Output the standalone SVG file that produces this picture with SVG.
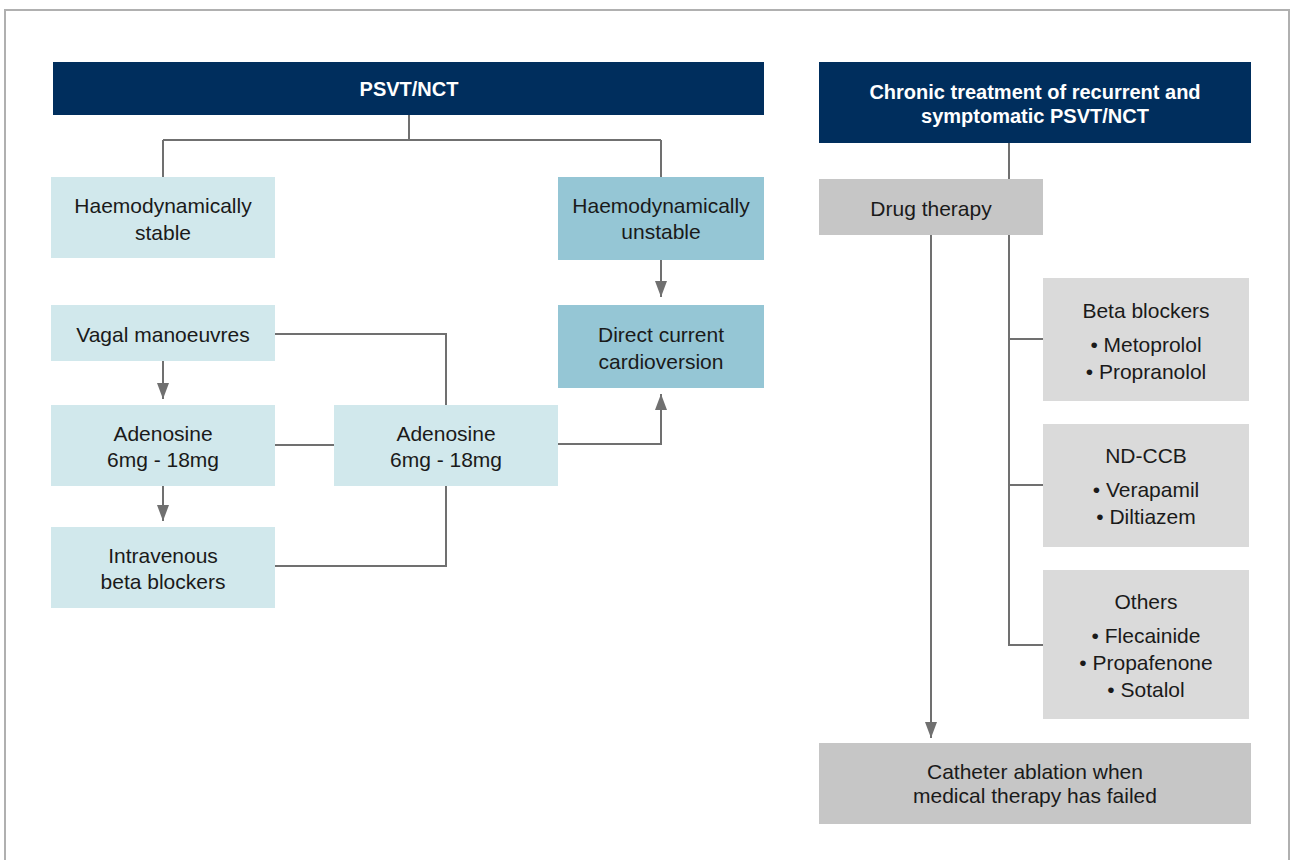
<svg xmlns="http://www.w3.org/2000/svg" width="1291" height="860" viewBox="0 0 1291 860">
  <style>
    .t { font-family: "Liberation Sans", Arial, sans-serif; font-size: 21px; fill: #1a1a1a; text-anchor: middle; }
    .h { font-family: "Liberation Sans", Arial, sans-serif; font-size: 20px; font-weight: bold; fill: #ffffff; text-anchor: middle; }
    .navy { fill: #002e5d; }
    .lb { fill: #d1e8ec; }
    .mb { fill: #95c6d5; }
    .g1 { fill: #c6c6c6; }
    .g2 { fill: #dadada; }
    .c { fill: none; stroke: #707070; stroke-width: 2; }
    .ca { fill: none; stroke: #707070; stroke-width: 2; marker-end: url(#arr); }
  </style>
  <defs>
    <marker id="arr" viewBox="0 0 16 12" markerWidth="16" markerHeight="12" refX="16" refY="6" orient="auto" markerUnits="userSpaceOnUse">
      <path d="M0,0 L16,6 L0,12 z" fill="#707070"/>
    </marker>
  </defs>
  <rect width="1291" height="860" fill="#ffffff"/>
  <path d="M5,862 V10 H1289 V862" fill="none" stroke="#b0b0b0" stroke-width="2"/>

  <g id="connectors">
    <path class="c" d="M409,115 V140 M163,140 H661 M163,140 V177 M661,140 V177"/>
    <path class="ca" d="M661,260 V297"/>
    <path class="ca" d="M163,361 V399"/>
    <path class="ca" d="M163,486 V521"/>
    <path class="c" d="M275,334 H446 V405"/>
    <path class="c" d="M275,445 H334"/>
    <path class="c" d="M275,566 H446 V486"/>
    <path class="ca" d="M557,444 H661 V394"/>
    <path class="c" d="M1009,143 V179"/>
    <path class="c" d="M1009,235 V645 H1043 M1009,339 H1043 M1009,485 H1043"/>
    <path class="ca" d="M931,235 V738"/>
  </g>

  <g id="psvt-header">
    <rect class="navy" x="53" y="62" width="711" height="53"/>
    <text class="h" x="409" y="96">PSVT/NCT</text>
  </g>
  <g id="stable">
    <rect class="lb" x="51" y="177" width="224" height="81"/>
    <text class="t" x="163" y="213">Haemodynamically</text>
    <text class="t" x="163" y="240">stable</text>
  </g>
  <g id="unstable">
    <rect class="mb" x="558" y="177" width="206" height="83"/>
    <text class="t" x="661" y="213">Haemodynamically</text>
    <text class="t" x="661" y="239">unstable</text>
  </g>
  <g id="vagal">
    <rect class="lb" x="51" y="305" width="224" height="56"/>
    <text class="t" x="163" y="342">Vagal manoeuvres</text>
  </g>
  <g id="dc-cardioversion">
    <rect class="mb" x="558" y="305" width="206" height="83"/>
    <text class="t" x="661" y="342">Direct current</text>
    <text class="t" x="661" y="369">cardioversion</text>
  </g>
  <g id="adenosine-1">
    <rect class="lb" x="51" y="405" width="224" height="81"/>
    <text class="t" x="163" y="441">Adenosine</text>
    <text class="t" x="163" y="467">6mg - 18mg</text>
  </g>
  <g id="adenosine-2">
    <rect class="lb" x="334" y="405" width="224" height="81"/>
    <text class="t" x="446" y="441">Adenosine</text>
    <text class="t" x="446" y="467">6mg - 18mg</text>
  </g>
  <g id="iv-beta">
    <rect class="lb" x="51" y="527" width="224" height="81"/>
    <text class="t" x="163" y="563">Intravenous</text>
    <text class="t" x="163" y="589">beta blockers</text>
  </g>

  <g id="chronic-header">
    <rect class="navy" x="819" y="62" width="432" height="81"/>
    <text class="h" x="1035" y="99">Chronic treatment of recurrent and</text>
    <text class="h" x="1035" y="123">symptomatic PSVT/NCT</text>
  </g>
  <g id="drug-therapy">
    <rect class="g1" x="819" y="179" width="224" height="56"/>
    <text class="t" x="931" y="216">Drug therapy</text>
  </g>
  <g id="beta-blockers">
    <rect class="g2" x="1043" y="278" width="206" height="123"/>
    <text class="t" x="1146" y="318">Beta blockers</text>
    <text class="t" x="1146" y="352">• Metoprolol</text>
    <text class="t" x="1146" y="379">• Propranolol</text>
  </g>
  <g id="nd-ccb">
    <rect class="g2" x="1043" y="424" width="206" height="123"/>
    <text class="t" x="1146" y="463">ND-CCB</text>
    <text class="t" x="1146" y="497">• Verapamil</text>
    <text class="t" x="1146" y="524">• Diltiazem</text>
  </g>
  <g id="others">
    <rect class="g2" x="1043" y="570" width="206" height="149"/>
    <text class="t" x="1146" y="609">Others</text>
    <text class="t" x="1146" y="643">• Flecainide</text>
    <text class="t" x="1146" y="670">• Propafenone</text>
    <text class="t" x="1146" y="697">• Sotalol</text>
  </g>
  <g id="catheter-ablation">
    <rect class="g1" x="819" y="743" width="432" height="81"/>
    <text class="t" x="1035" y="779">Catheter ablation when</text>
    <text class="t" x="1035" y="803">medical therapy has failed</text>
  </g>
</svg>
